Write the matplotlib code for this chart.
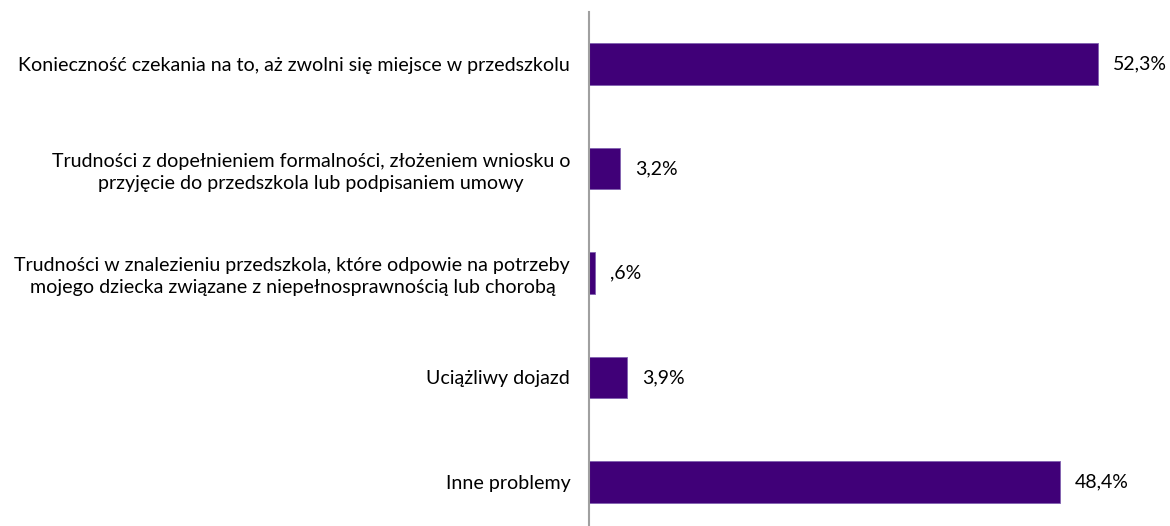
import matplotlib
matplotlib.use("Agg")
import matplotlib.pyplot as plt

categories = [
    "Konieczność czekania na to, aż zwolni się miejsce w przedszkolu",
    "Trudności z dopełnieniem formalności, złożeniem wniosku o\nprzyjęcie do przedszkola lub podpisaniem umowy",
    "Trudności w znalezieniu przedszkola, które odpowie na potrzeby\nmojego dziecka związane z niepełnosprawnością lub chorobą",
    "Uciążliwy dojazd",
    "Inne problemy",
]
values = [52.3, 3.2, 0.6, 3.9, 48.4]
value_labels = ["52,3%", "3,2%", ",6%", "3,9%", "48,4%"]

plt.rcParams['font.family'] = ['Lato', 'DejaVu Sans']

W, H = 1170, 526
fig = plt.figure(figsize=(W / 100, H / 100), dpi=100)
ax_left = 589 / W
ax_top = 1 - 12 / H
ax_bottom = -8 / H
ax = fig.add_axes([ax_left, ax_bottom, 1 - ax_left, ax_top - ax_bottom])

y = list(range(len(categories)))
ax.barh(y, values, height=0.40, color='#400078', edgecolor='#8060b0', linewidth=0.6)
ax.set_ylim(len(categories) - 0.5, -0.5)
ax.set_xlim(0, (W - 589) / 9.73)

for yi, v, lab in zip(y, values, value_labels):
    ax.annotate(lab, (v, yi), xytext=(15, 0), textcoords='offset pixels',
                ha='left', va='center', fontsize=14, color='#000000')

ax.set_yticks(y)
ax.set_yticklabels(categories, fontsize=14.1, ha='right', multialignment='center',
                   linespacing=1.35)
ax.tick_params(axis='y', length=0, pad=13.5)
ax.set_xticks([])
for s in ['top', 'right', 'bottom']:
    ax.spines[s].set_visible(False)
ax.spines['left'].set_color('#a0a0a0')
ax.spines['left'].set_linewidth(1.5)

fig.savefig("out.png", dpi=100)
